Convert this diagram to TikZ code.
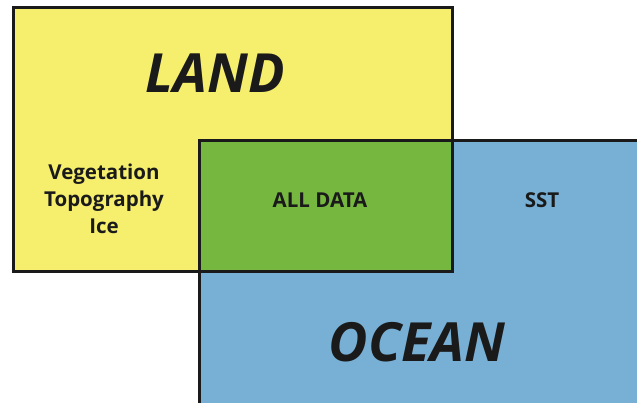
\documentclass[tikz,border=0pt]{standalone}
\usepackage{fontspec}
\setmainfont{Open Sans}
\usetikzlibrary{positioning}
\definecolor{landyellow}{HTML}{F6EF6E}
\definecolor{oceanblue}{HTML}{78B0D5}
\definecolor{bothgreen}{HTML}{76B73F}
\definecolor{edgeblack}{HTML}{1A1A1A}
\tikzstyle{region}=[draw=edgeblack,line width=3pt]
\tikzstyle{bigname}=[text=edgeblack,font=\fontsize{54}{60}\selectfont\bfseries\itshape,inner sep=0pt]
\tikzstyle{datalabel}=[text=edgeblack,font=\fontsize{20.5}{27}\selectfont\bfseries,align=center,inner sep=0pt]

\begin{document}
\begin{tikzpicture}[x=1pt,y=-1pt]
    \clip (0,0) rectangle (637,403);
    \fill[white] (0,0) rectangle (637,403);

    % the two regions and their overlap
    \fill[landyellow] (13,8) rectangle (452,272);
    \fill[oceanblue] (199.5,141) rectangle (638,420);
    \fill[bothgreen] (199.5,141) rectangle (452,272);
    \draw[region] (13,8) rectangle (452,272);
    \draw[region] (199.5,141) rectangle (638,420);

    \node[bigname] (land) at (215,73) {LAND};
    \node[bigname] (ocean) at (417,342) {OCEAN};

    \node[datalabel] (landdata) at (104,199) {Vegetation\\Topography\\Ice};
    \node[datalabel] (alldata) at (320,200) {ALL DATA};
    \node[datalabel] (sst) at (542,200) {SST};
\end{tikzpicture}
\end{document}
